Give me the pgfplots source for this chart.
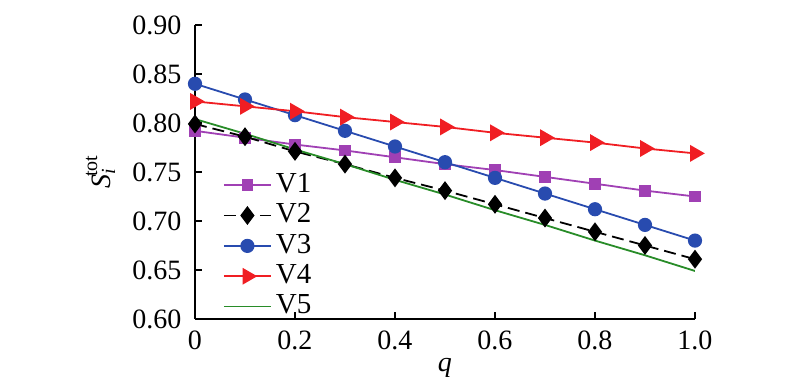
\documentclass[border=0pt]{standalone}
\usepackage{pgfplots}
\pgfplotsset{compat=1.18}
\usepackage{fontspec}
\setmainfont{Liberation Serif}
\definecolor{cV1}{RGB}{160,64,180}
\definecolor{cV3}{RGB}{40,75,175}
\definecolor{cV4}{RGB}{240,30,35}
\definecolor{cV5}{RGB}{40,140,40}
\newcommand{\smallsz}{\fontsize{10}{11}\selectfont}
\begin{document}
\fontsize{14}{16}\selectfont
\begin{tikzpicture}
\path[use as bounding box] (-97.5pt,-32pt) rectangle (302.5pt,159.5pt);
\begin{axis}[
  scale only axis, width=250pt, height=147pt,
  xmin=0, xmax=1, ymin=0.60, ymax=0.90,
  axis lines=left, axis line style={-, line width=0.8pt},
  tick style={line width=0.8pt, black}, tick align=inside, major tick length=3.5pt,
  xtick={0,0.2,0.4,0.6,0.8,1.0},
  xticklabels={0,0.2,0.4,0.6,0.8,1.0},
  ytick={0.60,0.65,0.70,0.75,0.80,0.85,0.90},
  yticklabels={0.60,0.65,0.70,0.75,0.80,0.85,0.90},
  tick label style={font=\fontsize{14}{16}\selectfont},
  xticklabel style={yshift=-1pt},
  yticklabel style={xshift=-2pt},
  xlabel={\textit{q}}, ylabel={\textit{S}\raisebox{-0.4ex}{\smallsz\textit{i}}\kern-0.3em\raisebox{1.0ex}{\smallsz tot}},
  label style={font=\fontsize{14}{16}\selectfont},
  xlabel style={yshift=5pt},
  ylabel style={yshift=-1pt},
  legend cell align=left,
  legend style={at={(rel axis cs:0.055,0.51)}, anchor=north west, draw=none, fill=none,
    inner sep=0pt, row sep=-0.5pt, font=\fontsize{14.5}{16}\selectfont},
  legend image code/.code={\draw[mark repeat=2,mark phase=2,#1] plot coordinates {(0cm,0cm) (0.415cm,0cm) (0.83cm,0cm)};},
]
\addplot[cV1, line width=0.9pt, mark=square*, mark size=2.5pt, mark options={solid}] coordinates {
(0,0.792) (0.1,0.785) (0.2,0.778) (0.3,0.772) (0.4,0.765) (0.5,0.758) (0.6,0.752) (0.7,0.745) (0.8,0.738) (0.9,0.731) (1.0,0.725)};
\addlegendentry{V1}
\addplot[black, line width=0.9pt, dashed, dash pattern=on 6pt off 3pt, mark=diamond*, mark size=4pt, mark options={solid}] coordinates {
(0,0.799) (0.1,0.786) (0.2,0.771) (0.3,0.758) (0.4,0.744) (0.5,0.731) (0.6,0.717) (0.7,0.703) (0.8,0.689) (0.9,0.675) (1.0,0.661)};
\addlegendentry{V2}
\addplot[cV3, line width=0.9pt, mark=*, mark size=3.1pt, mark options={solid}] coordinates {
(0,0.840) (0.1,0.824) (0.2,0.808) (0.3,0.792) (0.4,0.776) (0.5,0.760) (0.6,0.744) (0.7,0.728) (0.8,0.712) (0.9,0.696) (1.0,0.680)};
\addlegendentry{V3}
\addplot[cV4, line width=0.9pt, mark=triangle*, mark size=4pt, mark options={solid, rotate=-90}] coordinates {
(0,0.822) (0.1,0.817) (0.2,0.812) (0.3,0.806) (0.4,0.801) (0.5,0.796) (0.6,0.790) (0.7,0.785) (0.8,0.780) (0.9,0.774) (1.0,0.769)};
\addlegendentry{V4}
\addplot[cV5, line width=0.9pt] coordinates {
(0,0.804) (0.1,0.789) (0.2,0.773) (0.3,0.758) (0.4,0.742) (0.5,0.727) (0.6,0.711) (0.7,0.696) (0.8,0.680) (0.9,0.665) (1.0,0.649)};
\addlegendentry{V5}
\end{axis}
\end{tikzpicture}
\end{document}
